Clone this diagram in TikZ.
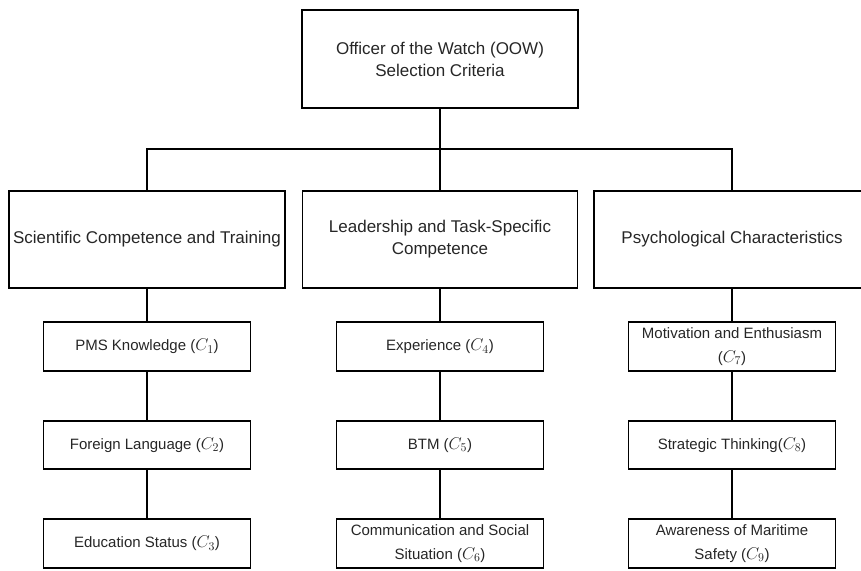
\RequirePackage{fix-cm}
\documentclass[tikz,border=0pt]{standalone}
\usepackage{fontspec}
\setmainfont{Liberation Sans}
\definecolor{ink}{HTML}{262626}
% criterion symbol C_i, set in math italic a touch larger than the label text
\newcommand{\critsym}[1]{\mbox{\fontsize{17}{24}\selectfont$C_{#1}$}}
\begin{document}
\begin{tikzpicture}[x=1pt,y=-1pt,
  box/.style={draw=black, line width=1.6pt, rectangle, inner sep=0pt,
    align=center, text=ink},
  headbox/.style={box, minimum width=276, minimum height=98,
    font=\fontsize{17}{22}\selectfont},
  critbox/.style={box, minimum width=207, minimum height=49,
    font=\fontsize{15}{24}\selectfont},
  link/.style={draw=black, line width=1.6pt}]
  \useasboundingbox (0,0) rectangle (861,570);
  \clip (0,0) rectangle (861,570);

  % goal
  \node[headbox] (goal) at (440,59) {Officer of the Watch (OOW)\\Selection Criteria};

  % main criteria
  \node[headbox, minimum height=97] (sct) at (147,239.5) {Scientific Competence and Training};
  \node[headbox, minimum width=275, minimum height=97] (lts) at (440,239.5) {Leadership and Task-Specific\\Competence};
  \node[headbox, minimum height=97] (psy) at (732,239.5) {Psychological Characteristics};

  % sub-criteria
  \node[critbox] (c1) at (147,346.5) {PMS Knowledge (\critsym{1})};
  \node[critbox, minimum height=48] (c2) at (147,445) {Foreign Language (\critsym{2})};
  \node[critbox] (c3) at (147,543.5) {Education Status (\critsym{3})};

  \node[critbox] (c4) at (440,346.5) {Experience (\critsym{4})};
  \node[critbox, minimum height=48] (c5) at (440,445) {BTM (\critsym{5})};
  \node[critbox] (c6) at (440,543.5) {Communication and Social\\Situation (\critsym{6})};

  \node[critbox] (c7) at (732,346.5) {Motivation and Enthusiasm\\(\critsym{7})};
  \node[critbox, minimum height=48] (c8) at (732,445) {Strategic Thinking(\critsym{8})};
  \node[critbox] (c9) at (732,543.5) {Awareness of Maritime\\Safety (\critsym{9})};

  % tree connectors
  \coordinate (bus) at (440,149);
  \draw[link] (goal.south) -- (bus);
  \draw[link] (sct.north) |- (bus) -| (psy.north);
  \draw[link] (bus) -- (lts.north);

  \draw[link] (sct.south) -- (c1.north);
  \draw[link] (c1.south) -- (c2.north);
  \draw[link] (c2.south) -- (c3.north);

  \draw[link] (lts.south) -- (c4.north);
  \draw[link] (c4.south) -- (c5.north);
  \draw[link] (c5.south) -- (c6.north);

  \draw[link] (psy.south) -- (c7.north);
  \draw[link] (c7.south) -- (c8.north);
  \draw[link] (c8.south) -- (c9.north);
\end{tikzpicture}
\end{document}
